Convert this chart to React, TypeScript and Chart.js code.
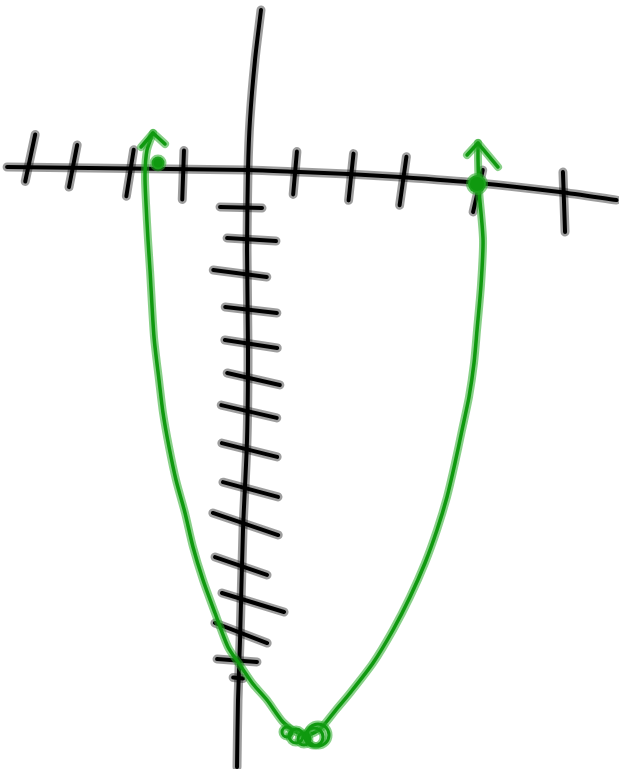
import React, { useEffect, useRef } from "react";
import { Chart, registerables } from "chart.js";

Chart.register(...registerables);

// Sketch units: 1 x-unit = one x tick step, 1 y-unit = one y tick step
const X_MIN = -4.509;
const X_MAX = 6.745;
const Y_MIN = -17.114;
const Y_MAX = 4.857;

// Hand-drawn horizontal axis
const xAxisX = [-4.38, -2.87, 0, 0.945, 1.82, 2.76, 4.18, 5.67, 6.7];
const xAxisY = [0.086, 0.057, 0, -0.057, -0.114, -0.2, -0.37, -0.63, -0.86];

// Hand-drawn vertical axis
const yAxisX = [0.236, 0.127, 0.036, 0, -0.018, 0, -0.018, -0.091, -0.145, -0.182, -0.2];
const yAxisY = [4.571, 3.143, 1.429, 0, -2.286, -5.143, -7.714, -10.286, -13.429, -15.143, -17.057];

// Tick marks on the horizontal axis
const xTickX = [-3.96, -3.18, -2.145, -1.18, 0.855, 1.873, 2.818, 4.18, 5.745];
const xTickY = [0.343, 0.114, -0.086, -0.143, -0.086, -0.2, -0.314, -0.6, -0.914];

// Tick marks on the vertical axis
const yTickX = [-0.127, 0.064, -0.145, 0.055, 0.055, 0.1, 0.018, 0.027, 0.045, -0.045, -0.127, 0.091, -0.127, -0.2, -0.18];
const yTickY = [-1.071, -1.986, -2.957, -4.0, -4.971, -5.971, -6.9, -8.0, -9.129, -10.114, -11.314, -12.357, -13.229, -14.014, -14.514];

// The parabola (green curve), from the left arrow to the right arrow
const curveX = [-1.727, -1.836, -1.873, -1.855, -1.818, -1.782, -1.709, -1.618, -1.545, -1.436, -1.309, -1.145, -1.0, -0.818, -0.6, -0.364, -0.145, 0.091, 0.345, 0.636, 0.873, 1.091, 1.309, 1.582, 1.855, 2.273, 2.636, 2.945, 3.218, 3.436, 3.618, 3.764, 3.891, 4.018, 4.109, 4.164, 4.236, 4.273, 4.2, 4.182, 4.182];
const curveY = [1.057, 0.571, -0.143, -0.943, -2.0, -2.857, -4.771, -6.0, -6.943, -7.914, -8.857, -9.8, -10.771, -11.714, -12.657, -13.629, -14.143, -14.686, -15.143, -15.771, -16.057, -16.143, -15.971, -15.457, -14.943, -14.086, -13.143, -12.2, -11.229, -10.286, -9.343, -8.371, -7.429, -6.486, -5.514, -4.571, -3.286, -2.0, -0.571, 0.286, 0.771];

// Root markers (where the curve meets the horizontal axis)
const rootX = [-1.636, 4.164];
const rootY = [0.2, -0.4];

// Scribbled vertex marker (overlapping loops)
const vertexX = [0.709, 0.873, 1.018, 1.2, 1.273];
const vertexY = [-16.057, -16.171, -16.257, -16.2, -16.143];

const zip = (xs: number[], ys: number[]) => xs.map((x, i) => ({ x, y: ys[i] }));

const BLACK = "#000000";
const BLACK_HALO = "rgba(0,0,0,0.38)";
const GREEN = "#0f990f";
const GREEN_HALO = "rgba(40,170,40,0.55)";

export default function App() {
  const ref = useRef<HTMLCanvasElement | null>(null);

  useEffect(() => {
    document.body.style.margin = "0";
    const canvas = ref.current;
    if (!canvas) return;

    // Per-mark tilt (degrees) and half-length (px) of the hand-drawn tick strokes
    const xTickTilt = [102, 101, 99, 92, 95, 96, 98, 103, 88];
    const xTickHalf = [24, 21.5, 23.5, 24.5, 21.5, 23.5, 24.5, 21.5, 30];
    const yTickTilt = [1.4, 3.5, 7.4, 6.6, 8.7, 12.8, 13, 14, 15, 18.7, 19, 17, 21, 4, 6];
    const yTickHalf = [21, 24.5, 27, 26, 26.5, 27, 28.5, 28.5, 28.5, 34.5, 27.5, 32.5, 28, 20, 5];
    const vertexLoop = [5, 7, 6, 9, 11];

    const lineDs = (data: any, color: string, width: number, order: number) => ({
      data,
      showLine: true,
      borderColor: color,
      borderWidth: width,
      borderCapStyle: "round",
      borderJoinStyle: "round",
      tension: 0.25,
      pointRadius: 0,
      fill: false,
      order,
    });

    const tickDs = (data: any, tilt: number[], half: number[], color: string, width: number, order: number) => ({
      data,
      showLine: false,
      pointStyle: "line",
      pointRotation: tilt,
      pointRadius: half,
      pointBorderColor: color,
      pointBorderWidth: width,
      pointBackgroundColor: color,
      order,
    });

    const arrowPlugin = {
      id: "sketchArrows",
      beforeDatasetsDraw(chart: any) {
        chart.ctx.lineCap = "round";
        chart.ctx.lineJoin = "round";
      },
      afterDatasetsDraw(chart: any) {
        const meta = chart.getDatasetMeta(5);
        const pts = meta.data;
        if (!pts || pts.length < 2) return;
        const first = pts[0];
        const last = pts[pts.length - 1];
        const heads = [
          { p: first, arms: [[-12, 14], [12, 11]] },
          { p: last, arms: [[-11, 12], [20, 24]] },
        ];
        const ctx = chart.ctx;
        ctx.save();
        ctx.lineCap = "round";
        ctx.lineJoin = "round";
        for (const [color, width] of [[GREEN_HALO, 8], [GREEN, 3.5]] as [string, number][]) {
          ctx.strokeStyle = color;
          ctx.lineWidth = width;
          for (const h of heads) {
            ctx.beginPath();
            ctx.moveTo(h.p.x + h.arms[0][0], h.p.y + h.arms[0][1]);
            ctx.lineTo(h.p.x, h.p.y);
            ctx.lineTo(h.p.x + h.arms[1][0], h.p.y + h.arms[1][1]);
            ctx.stroke();
          }
        }
        ctx.restore();
      },
    };

    const chart = new Chart(canvas, {
      type: "scatter",
      data: {
        datasets: [
          // 0-3: axes halo + core
          lineDs(zip(xAxisX, xAxisY), BLACK_HALO, 9, 20) as any,
          lineDs(zip(yAxisX, yAxisY), BLACK_HALO, 9, 20) as any,
          lineDs(zip(xAxisX, xAxisY), BLACK, 4, 10) as any,
          lineDs(zip(yAxisX, yAxisY), BLACK, 4, 10) as any,
          // 4: curve halo
          lineDs(zip(curveX, curveY), GREEN_HALO, 8, 5) as any,
          // 5: curve core
          lineDs(zip(curveX, curveY), GREEN, 3.5, 4) as any,
          // tick marks
          tickDs(zip(xTickX, xTickY), xTickTilt, xTickHalf, BLACK_HALO, 9, 19) as any,
          tickDs(zip(yTickX, yTickY), yTickTilt, yTickHalf, BLACK_HALO, 9, 19) as any,
          tickDs(zip(xTickX, xTickY), xTickTilt, xTickHalf, BLACK, 4, 9) as any,
          tickDs(zip(yTickX, yTickY), yTickTilt, yTickHalf, BLACK, 4, 9) as any,
          // root dots
          {
            data: zip(rootX, rootY),
            showLine: false,
            pointStyle: "circle",
            pointRadius: [6.5, 9],
            pointBackgroundColor: GREEN,
            pointBorderColor: GREEN_HALO,
            pointBorderWidth: 4,
            order: 2,
          } as any,
          // vertex scribble
          {
            data: zip(vertexX, vertexY),
            showLine: false,
            pointStyle: "circle",
            pointRadius: vertexLoop,
            pointBackgroundColor: "rgba(0,0,0,0)",
            pointBorderColor: GREEN_HALO,
            pointBorderWidth: 7,
            order: 3,
          } as any,
          {
            data: zip(vertexX, vertexY),
            showLine: false,
            pointStyle: "circle",
            pointRadius: vertexLoop,
            pointBackgroundColor: "rgba(0,0,0,0)",
            pointBorderColor: GREEN,
            pointBorderWidth: 3,
            order: 1,
          } as any,
        ],
      },
      options: {
        animation: false,
        responsive: false,
        maintainAspectRatio: false,
        events: [],
        layout: { padding: 0, autoPadding: false },
        plugins: {
          legend: { display: false },
          tooltip: { enabled: false },
          title: { display: false },
        },
        scales: {
          x: { type: "linear", min: X_MIN, max: X_MAX, display: false },
          y: { type: "linear", min: Y_MIN, max: Y_MAX, display: false },
        },
      },
      plugins: [arrowPlugin],
    });

    return () => chart.destroy();
  }, []);

  return (
    <div style={{ width: 619, height: 769, background: "#ffffff" }}>
      <canvas ref={ref} width={619} height={769} style={{ display: "block", width: 619, height: 769 }} />
    </div>
  );
}
